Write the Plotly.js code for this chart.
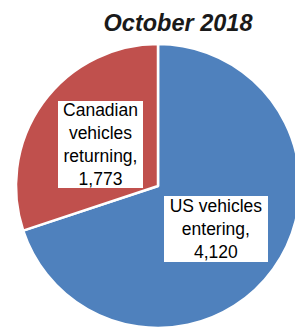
<!DOCTYPE html>
<html><head><meta charset="utf-8">
<script src="https://cdn.plot.ly/plotly-3.0.1.min.js"></script>
<style>html,body{margin:0;padding:0;overflow:hidden;background:#fff}</style>
</head><body><div id="chart"></div>
<script>
const titleText = "October 2018";
const categories = ["US vehicles entering", "Canadian vehicles returning"];
const labelLines = [["US vehicles", "entering,"], ["Canadian", "vehicles", "returning,"]];
const values = [4120, 1773];
const colors = ["#4F81BD", "#C0504D"];

const W = 310, H = 340;
const cx = 158, cy = 186, R = 142;
const fmt = v => v.toLocaleString("en-US");

const annPos = [
  {x: 216, y: 229, w: 104, h: 66},
  {x: 100.5, y: 144.5, w: 85, h: 87}
];

const annotations = categories.map((c, i) => ({
  text: labelLines[i].concat([fmt(values[i])]).join("<br>"),
  xref: "paper", yref: "paper",
  x: annPos[i].x / W, y: 1 - annPos[i].y / H,
  xanchor: "center", yanchor: "middle",
  showarrow: false, bgcolor: "#ffffff", borderpad: 0, borderwidth: 0,
  width: annPos[i].w, height: annPos[i].h,
  font: {family: "Liberation Sans, Arial, sans-serif", size: 17.5, color: "#000"}
}));

const data = [{
  type: "pie",
  labels: categories,
  values: values,
  sort: false,
  direction: "clockwise",
  rotation: 0,
  marker: {colors: colors, line: {color: "#ffffff", width: 2.5}},
  textinfo: "none",
  hoverinfo: "none",
  showlegend: false,
  domain: {x: [(cx - R) / W, (cx + R) / W], y: [1 - (cy + R) / H, 1 - (cy - R) / H]}
}];

const layout = {
  width: W, height: H,
  margin: {l: 0, r: 0, t: 0, b: 0, pad: 0},
  paper_bgcolor: "#ffffff",
  title: {
    text: "<b><i>" + titleText + "</i></b>",
    x: 178 / W, xanchor: "center", xref: "paper",
    y: 1 - 23 / H, yanchor: "middle", yref: "paper",
    font: {family: "Liberation Sans, Arial, sans-serif", size: 23.5, color: "#1a1a1a"}
  },
  annotations: annotations
};

Plotly.newPlot("chart", data, layout, {staticPlot: true, displayModeBar: false});
</script></body></html>
